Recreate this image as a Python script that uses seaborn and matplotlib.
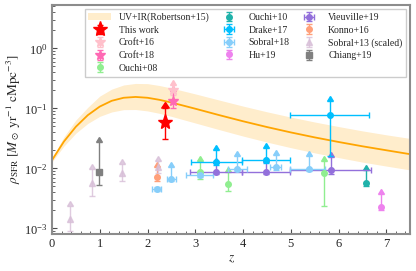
import numpy as np
import matplotlib
matplotlib.use("Agg")
import matplotlib.pyplot as plt
from matplotlib.ticker import AutoMinorLocator
import seaborn as sns

sns.set_theme(style="ticks")
plt.rcParams['font.family'] = ['Liberation Serif', 'DejaVu Serif']
plt.rcParams['mathtext.fontset'] = 'stix'

# Robertson+15 curve
rob_z = [0, 0.25, 0.5, 0.75, 1, 1.25, 1.5, 1.75, 2, 2.25, 2.5, 3, 3.5, 4, 4.5, 5, 5.5, 6, 6.5, 7, 7.5]
rob_mid = [0.0137, 0.0280, 0.0494, 0.0770, 0.107, 0.1335, 0.150, 0.1548, 0.150, 0.1386, 0.125,
           0.0986, 0.0771, 0.0609, 0.0488, 0.0397, 0.0328, 0.0275, 0.0233, 0.0200, 0.0172]
rob_lo = [0.0128, 0.0235, 0.0385, 0.0560, 0.0735, 0.0870, 0.0950, 0.0955, 0.0905, 0.0825, 0.0735,
          0.0570, 0.0442, 0.0345, 0.0274, 0.0221, 0.0181, 0.0151, 0.0127, 0.0109, 0.0094]
rob_hi = [0.0148, 0.0335, 0.0640, 0.1040, 0.1600, 0.2090, 0.2450, 0.2600, 0.2580, 0.2400, 0.2180,
          0.1740, 0.1375, 0.1090, 0.0876, 0.0715, 0.0592, 0.0497, 0.0421, 0.0362, 0.0315]

# this work
tw_z = [2.36]; tw_y = [0.060]; tw_lo = [0.031]; tw_hi = [0.100]
# Croft+16 / Croft+18
c16_z = [2.54]; c16_y = [0.200]; c16_lo = [0.165]; c16_hi = [0.245]
c18_z = [2.54]; c18_y = [0.135]; c18_lo = [0.100]; c18_hi = [0.195]
# Ouchi+08
o08_z = [3.1, 3.69, 5.69]; o08_y = [0.0086, 0.0055, 0.0083]
o08_lo = [0.0067, 0.0042, 0.0024]; o08_hi = [0.0135, 0.0086, 0.0135]
# Ouchi+10
o10_z = [6.58]; o10_y = [0.0058]; o10_lo = [0.0050]; o10_hi = [0.0093]
# Drake+17
d17_z = [3.44, 4.48, 5.82]; d17_y = [0.0126, 0.0140, 0.0776]
d17_lo = [0.0112, 0.0124, 0.0158]; d17_hi = [0.0200, 0.0220, 0.1300]
d17_zlo = [2.92, 3.97, 4.99]; d17_zhi = [3.97, 4.98, 6.64]
# Sobral+18
s18_z = [2.2, 2.49, 3.1, 3.88, 4.69, 5.38]; s18_y = [0.0045, 0.0066, 0.0078, 0.0098, 0.0104, 0.0098]
s18_lo = [0.0042, 0.0061, 0.0072, 0.0090, 0.0095, 0.0090]
s18_hi = [0.0049, 0.0105, 0.0085, 0.0160, 0.0168, 0.0160]
s18_zlo = [2.10, 2.40, 2.80, 3.69, 4.57, 4.99]; s18_zhi = [2.29, 2.59, 3.38, 4.09, 4.80, 5.71]
s18_arrow = [False, True, False, True, True, True]
# Hu+19
h19_z = [6.88]; h19_y = [0.0023]; h19_lo = [0.0020]; h19_hi = [0.0037]
# Vieuville+19
v19_z = [3.44, 4.48, 5.84]; v19_y = [0.0086, 0.0086, 0.0095]
v19_lo = [0.0080, 0.0080, 0.0080]; v19_hi = [0.0124, 0.0128, 0.0155]
v19_zlo = [2.90, 3.97, 4.99]; v19_zhi = [3.97, 4.98, 6.67]
# Konno+16
k16_z = [2.19]; k16_y = [0.0073]; k16_lo = [0.0061]; k16_hi = [0.0105]
# Sobral+13 (scaled)
s13_z = [0.38, 0.83, 1.46, 2.22]; s13_y = [0.00145, 0.0056, 0.0083, 0.0105]
s13_lo = [0.00092, 0.0035, 0.0062, 0.0085]; s13_hi = [0.0024, 0.0098, 0.0120, 0.0135]
# Chiang+19
c19_z = [0.99]; c19_y = [0.0088]; c19_lo = [0.0053]; c19_hi = [0.0270]

fig = plt.figure(figsize=(4.16, 2.71), dpi=100)
ax = fig.add_axes([0.125, 0.136, 0.861, 0.846])

ax.fill_between(rob_z, rob_lo, rob_hi, color='orange', alpha=0.2, lw=0,
                label='UV+IR(Robertson+15)')
sns.lineplot(x=rob_z, y=rob_mid, color='orange', lw=1.3, ax=ax)


def draw(z, y, lo, hi, color, marker, ms, label, zlo=None, zhi=None,
         arrow=True, alpha=1.0, amsize=5):
    z = np.array(z); y = np.array(y)
    yerr = [y - np.array(lo), np.array(hi) - y]
    xerr = None
    if zlo is not None:
        xerr = [z - np.array(zlo), np.array(zhi) - z]
    ax.errorbar(z, y, yerr=yerr, xerr=xerr, fmt=marker, color=color, ms=ms,
                capsize=2, elinewidth=1, capthick=1, alpha=alpha, label=label)
    arrow = np.broadcast_to(arrow, z.shape)
    if arrow.any():
        ax.plot(z[arrow], np.array(hi)[arrow], ls='none', marker=10, color=color,
                ms=amsize, alpha=alpha)


draw(tw_z, tw_y, tw_lo, tw_hi, 'red', '*', 11, 'This work', amsize=6)
draw(c16_z, c16_y, c16_lo, c16_hi, 'pink', '*', 7, 'Croft+16')
draw(c18_z, c18_y, c18_lo, c18_hi, 'hotpink', '*', 7, 'Croft+18')
draw(o08_z, o08_y, o08_lo, o08_hi, 'lightgreen', 'o', 4, 'Ouchi+08')
draw(o10_z, o10_y, o10_lo, o10_hi, 'lightseagreen', 'o', 4, 'Ouchi+10')
draw(v19_z, v19_y, v19_lo, v19_hi, 'mediumpurple', 'o', 4, 'Vieuville+19', v19_zlo, v19_zhi)
draw(d17_z, d17_y, d17_lo, d17_hi, 'deepskyblue', 'o', 4, 'Drake+17', d17_zlo, d17_zhi)
draw(s18_z, s18_y, s18_lo, s18_hi, 'lightskyblue', 'o', 4, 'Sobral+18', s18_zlo, s18_zhi,
     arrow=s18_arrow)
draw(h19_z, h19_y, h19_lo, h19_hi, 'violet', 'o', 4, 'Hu+19')
draw(k16_z, k16_y, k16_lo, k16_hi, 'lightsalmon', 'o', 4, 'Konno+16')
draw(s13_z, s13_y, s13_lo, s13_hi, 'thistle', '^', 5, 'Sobral+13 (scaled)', alpha=0.8)
draw(c19_z, c19_y, c19_lo, c19_hi, 'gray', 's', 4, 'Chiang+19')

ax.set_yscale('log')
ax.set_xlim(0, 7.5)
ax.set_ylim(8e-4, 5.3)
ax.set_xlabel(r'$z$', fontsize=9.5, labelpad=2)
ax.set_ylabel(r'$\rho_{\rm SFR}\ [M_\odot\ {\rm yr}^{-1}\ {\rm cMpc}^{-3}]$', fontsize=9.5, labelpad=1)
ax.xaxis.set_minor_locator(AutoMinorLocator(5))
ax.tick_params(which='both', direction='in', labelsize=9, color='0.3')
ax.tick_params(which='major', length=3.5, width=0.8, pad=3)
ax.tick_params(which='minor', length=2, width=0.6)
for s in ax.spines.values():
    s.set_color('0.55')
    s.set_linewidth(1.5)

handles, labels = ax.get_legend_handles_labels()
order = ['UV+IR(Robertson+15)', 'This work', 'Croft+16', 'Croft+18', 'Ouchi+08',
         'Ouchi+10', 'Drake+17', 'Sobral+18', 'Hu+19',
         'Vieuville+19', 'Konno+16', 'Sobral+13 (scaled)', 'Chiang+19']
hmap = dict(zip(labels, handles))
ax.legend([hmap[l] for l in order], order, ncol=3, loc='upper right', fontsize=7,
          fancybox=False, edgecolor='0.8', framealpha=1, borderaxespad=0.4,
          columnspacing=0.9, handlelength=2.3, labelspacing=0.37)

fig.savefig('out.png', dpi=100)
